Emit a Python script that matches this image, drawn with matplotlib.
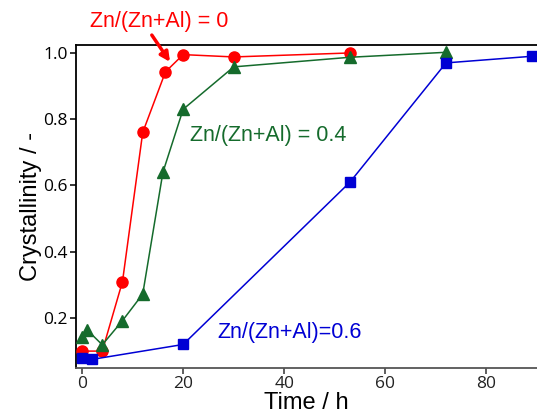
import matplotlib
matplotlib.use("Agg")
import matplotlib.pyplot as plt

# Zn/(Zn+Al) = 0
t_0 = [0, 4, 8, 12, 16.5, 20, 30, 53]
c_0 = [0.10, 0.10, 0.31, 0.76, 0.943, 0.995, 0.988, 1.0]
# Zn/(Zn+Al) = 0.4
t_04 = [0, 1, 4, 8, 12, 16, 20, 30, 53, 72]
c_04 = [0.143, 0.164, 0.119, 0.192, 0.272, 0.64, 0.83, 0.958, 0.987, 1.002]
# Zn/(Zn+Al) = 0.6
t_06 = [0, 2, 20, 53, 72, 89]
c_06 = [0.08, 0.075, 0.12, 0.61, 0.97, 0.99]

red = '#ff0000'
green = '#156b2c'
blue = '#0000d4'

fig = plt.figure(figsize=(5.37, 4.16), dpi=100)
ax = fig.add_axes([0.1415, 0.1154, 0.8585, 0.7764])

ax.plot(t_0, c_0, color=red, marker='o', markersize=8, lw=1.1, zorder=3)
ax.plot(t_04, c_04, color=green, marker='^', markersize=8.5, lw=1.1, zorder=4)
ax.plot(t_06, c_06, color=blue, marker='s', markersize=7.5, lw=1.1, zorder=5)

ax.set_xlim(-1.2, 90)
ax.set_ylim(0.049, 1.024)
ax.set_xticks([0, 20, 40, 60, 80])
ax.set_yticks([0.2, 0.4, 0.6, 0.8, 1.0])
ax.set_yticklabels(['0.2', '0.4', '0.6', '0.8', '1.0'])

for s in ['top', 'left']:
    ax.spines[s].set_color('black')
    ax.spines[s].set_linewidth(1.3)
ax.spines['bottom'].set_color('#555555')
ax.spines['bottom'].set_linewidth(1.3)
ax.spines['right'].set_visible(False)

ax.tick_params(axis='both', direction='out', length=4, width=1.1,
               labelsize=12.5, pad=2)
ax.tick_params(axis='x', colors='#333333', labelcolor='#222222')
for lab in ax.get_xticklabels() + ax.get_yticklabels():
    lab.set_family('Open Sans')

ax.set_xlabel('Time / h', family='Liberation Sans', fontsize=17, labelpad=0)
ax.set_ylabel('Crystallinity / -', family='Liberation Sans', fontsize=17, labelpad=1)

ax.text(15.3, 1.094, 'Zn/(Zn+Al) = 0', ha='center', va='center',
        color=red, fontsize=15.5, family='Liberation Sans', clip_on=False)
ax.annotate('', xy=(17.4, 0.973), xytext=(13.8, 1.054),
            annotation_clip=False,
            arrowprops=dict(arrowstyle='-|>', color=red, lw=2.5,
                            mutation_scale=14, shrinkA=0, shrinkB=0))
ax.text(36.8, 0.75, 'Zn/(Zn+Al) = 0.4', ha='center', va='center',
        color=green, fontsize=15.5, family='Liberation Sans')
ax.text(41.0, 0.155, 'Zn/(Zn+Al)=0.6', ha='center', va='center',
        color=blue, fontsize=15.5, family='Liberation Sans')

fig.savefig('out.png', dpi=100)
